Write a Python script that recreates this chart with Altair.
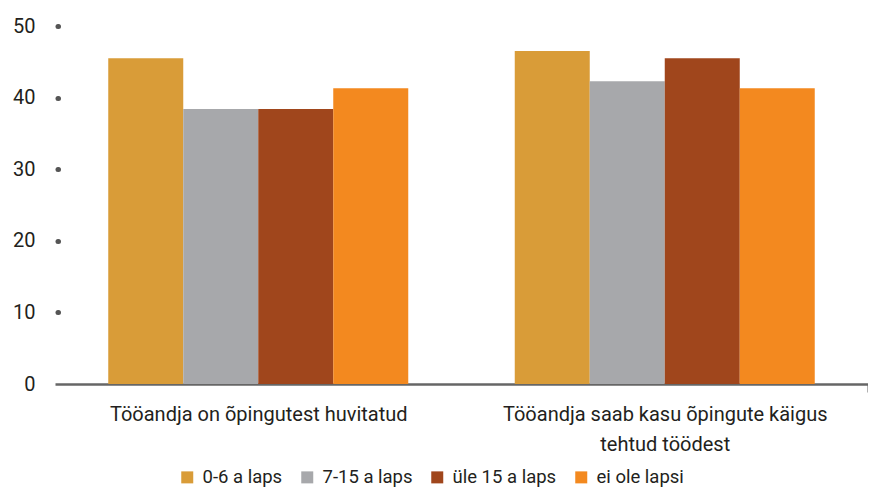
import altair as alt
import pandas as pd

categories = ["Tööandja on õpingutest huvitatud",
              "Tööandja saab kasu õpingute käigus\ntehtud töödest"]
series = ["0-6 a laps", "7-15 a laps", "üle 15 a laps", "ei ole lapsi"]
values_g1 = [45.5, 38.4, 38.4, 41.3]
values_g2 = [46.5, 42.3, 45.5, 41.3]
colors = ["#D99C38", "#A7A8AB", "#A0461C", "#F3891F"]
y_ticks = [0, 10, 20, 30, 40, 50]

rows = []
for cat, vals in zip(categories, [values_g1, values_g2]):
    for s, v in zip(series, vals):
        rows.append({"category": cat, "series": s, "value": v})
df = pd.DataFrame(rows)

FONT = "Roboto"
TXT = "#231F20"

chart = alt.Chart(df).mark_bar().encode(
    x=alt.X("category:N", sort=categories,
            scale=alt.Scale(paddingInner=0, paddingOuter=0),
            axis=alt.Axis(title=None, labelAngle=0,
                          labelExpr="split(datum.label, '\\n')",
                          tickBand="extent", tickSize=8, tickWidth=2,
                          tickColor={"condition": {"test": "datum.index === 1", "value": "#666666"},
                                     "value": "transparent"},
                          domainColor="#666666", domainWidth=2.5,
                          labelFont=FONT, labelFontSize=20, labelColor=TXT,
                          labelLimit=0,
                          labelPadding=12, labelLineHeight=30)),
    xOffset=alt.XOffset("series:N", sort=series,
                        scale=alt.Scale(paddingOuter=0.71, paddingInner=0)),
    y=alt.Y("value:Q", scale=alt.Scale(domain=[0, 50], nice=False),
            axis=alt.Axis(title=None, values=y_ticks, domain=False, grid=False,
                          offset=-3, tickSize=0.5, tickWidth=5, tickCap="round",
                          tickColor={"condition": {"test": "datum.value === 0", "value": "transparent"},
                                     "value": "#555555"},
                          labelPadding=22.5, labelFont=FONT, labelFontSize=20,
                          labelColor=TXT)),
    color=alt.Color("series:N", sort=series,
                    scale=alt.Scale(domain=series, range=colors),
                    legend=alt.Legend(title=None, orient="none", legendX=123, legendY=442,
                                      direction="horizontal", symbolType="square",
                                      symbolSize=144, symbolStrokeWidth=0,
                                      labelFont=FONT, labelFontSize=18.5, labelColor=TXT,
                                      labelLimit=0,
                                      columnPadding=15, labelOffset=6)),
).properties(
    width=813, height=358,
    autosize=alt.AutoSizeParams(type="none"),
    padding={"left": 47, "top": 18, "right": 0, "bottom": 104},
).configure_view(stroke=None)

chart.save("out.html", embed_options={"renderer": "svg", "actions": False})
